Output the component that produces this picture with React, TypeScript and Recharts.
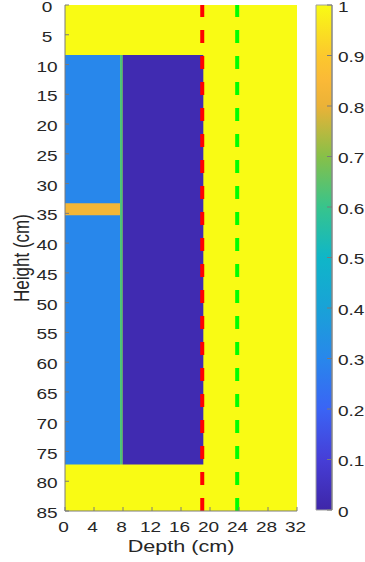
import React from 'react';
import {
  ComposedChart,
  BarChart,
  Bar,
  XAxis,
  YAxis,
  ReferenceArea,
  ReferenceLine,
  Label,
} from 'recharts';

// ---- Data ----
const depthTicks = [0, 4, 8, 12, 16, 20, 24, 28, 32];
const heightTicks = [0, 5, 10, 15, 20, 25, 30, 35, 40, 45, 50, 55, 60, 65, 70, 75, 80, 85];
const colorTicks = [0, 0.1, 0.2, 0.3, 0.4, 0.5, 0.6, 0.7, 0.8, 0.9, 1];

// Cells of the field image (depth range, height range, value)
const cellDepthFrom = [0, 0, 0, 7.6, 7.95];
const cellDepthTo = [32, 7.6, 7.6, 7.95, 19.08];
const cellHeightFrom = [0, 8.4, 33.3, 8.4, 8.4];
const cellHeightTo = [85, 77.2, 35.3, 77.2, 77.2];
const cellValue = [1, 0.3, 0.83, 0.62, 0.02];

// Dashed vertical marker lines
const markerDepth = [18.93, 23.75];
const markerColor = ['#ff0000', '#00ff00'];

// Colormap (parula-like) stops
const cmapPos = [0, 0.1, 0.2, 0.3, 0.4, 0.5, 0.6, 0.7, 0.8, 0.85, 0.9, 1];
const cmapRGB: number[][] = [
  [62, 38, 168],
  [70, 62, 215],
  [58, 100, 245],
  [40, 135, 235],
  [25, 162, 215],
  [15, 182, 200],
  [55, 196, 140],
  [135, 192, 72],
  [235, 178, 55],
  [250, 185, 55],
  [252, 200, 45],
  [249, 251, 20],
];

function cmap(v: number): string {
  for (let i = 0; i < cmapPos.length - 1; i++) {
    if (v >= cmapPos[i] && v <= cmapPos[i + 1]) {
      const t = (v - cmapPos[i]) / (cmapPos[i + 1] - cmapPos[i]);
      const c = cmapRGB[i].map((a, k) => Math.round(a + (cmapRGB[i + 1][k] - a) * t));
      return `rgb(${c[0]},${c[1]},${c[2]})`;
    }
  }
  const c = cmapRGB[cmapRGB.length - 1];
  return `rgb(${c[0]},${c[1]},${c[2]})`;
}

const cells = cellValue.map((v, i) => ({
  x1: cellDepthFrom[i],
  x2: cellDepthTo[i],
  y1: cellHeightFrom[i],
  y2: cellHeightTo[i],
  v,
}));

const mainData = cells.map((c) => ({ depth: c.x1, height: c.y1 }));
const barData = [{ name: 'cb', v: 1 }];

// ---- Styling ----
const SX = 1.27;
const FONT = 'Liberation Sans, Arial, Helvetica, sans-serif';
const TXT = '#262626';
const AX = '#7a7a7a';

function SText(props: any) {
  const { x, y, anchor, dy, size, rotate, children } = props;
  return (
    <text
      transform={`translate(${x},${y}) scale(${SX},1)${rotate ? ' rotate(-90)' : ''}`}
      textAnchor={anchor}
      dy={dy}
      fontSize={size}
      fill={TXT}
      fontFamily={FONT}
    >
      {children}
    </text>
  );
}

const LeftTick = (p: any) => (
  <SText x={p.x} y={p.y} anchor="middle" dy="0.47em" size={15}>
    {p.payload.value}
  </SText>
);
const BottomTick = (p: any) => (
  <SText x={p.x - 1.5} y={p.y} anchor="middle" dy="0.71em" size={15}>
    {p.payload.value}
  </SText>
);
const CbTick = (p: any) => (
  <SText x={p.x} y={p.y} anchor="start" dy="0.45em" size={15}>
    {p.payload.value}
  </SText>
);

const HeightLabel = (p: any) => {
  const vb = p.viewBox || {};
  return (
    <SText x={28.5} y={vb.y + vb.height / 2} anchor="middle" dy="0" size={17} rotate>
      Height (cm)
    </SText>
  );
};
const DepthLabel = (p: any) => {
  const vb = p.viewBox || {};
  return (
    <SText x={vb.x + vb.width / 2} y={551.7} anchor="middle" dy="0" size={17}>
      Depth (cm)
    </SText>
  );
};

export default function App() {
  return (
    <div style={{ position: 'absolute', left: 0, top: 0, width: 365, height: 562, background: '#fff' }}>
      <div style={{ position: 'absolute', left: 0, top: 0 }}>
        <ComposedChart
          width={365}
          height={562}
          data={mainData}
          margin={{ top: 5, right: 68, bottom: 0, left: 0 }}
        >
          <XAxis
            xAxisId="b"
            dataKey="depth"
            type="number"
            domain={[0, 32]}
            ticks={depthTicks}
            interval={0}
            allowDataOverflow
            orientation="bottom"
            height={51}
            tickSize={-4}
            tickMargin={14}
            stroke={AX}
            tick={BottomTick}
            label={<Label content={DepthLabel} />}
          />
          <XAxis
            xAxisId="t"
            dataKey="depth"
            type="number"
            domain={[0, 32]}
            ticks={depthTicks}
            interval={0}
            allowDataOverflow
            orientation="top"
            height={0}
            tickSize={-4}
            stroke={AX}
            tick={false}
          />
          <YAxis
            yAxisId="l"
            dataKey="height"
            type="number"
            domain={[0, 85]}
            reversed
            ticks={heightTicks}
            interval={0}
            allowDataOverflow
            width={65}
            tickSize={-4}
            tickMargin={22}
            stroke={AX}
            tick={LeftTick}
            label={<Label content={HeightLabel} />}
          />
          <YAxis
            yAxisId="r"
            orientation="right"
            dataKey="height"
            type="number"
            domain={[0, 85]}
            reversed
            ticks={heightTicks}
            interval={0}
            allowDataOverflow
            width={0}
            tickSize={-4}
            stroke={AX}
            tick={false}
          />
          {cells.map((c, i) => (
            <ReferenceArea
              key={`cell-${i}`}
              xAxisId="b"
              yAxisId="l"
              x1={c.x1}
              x2={c.x2}
              y1={c.y1}
              y2={c.y2}
              fill={cmap(c.v)}
              fillOpacity={1}
              stroke="none"
              ifOverflow="visible"
            />
          ))}
          {markerDepth.map((d, i) => (
            <ReferenceLine
              key={`m-${i}`}
              xAxisId="b"
              yAxisId="l"
              x={d}
              stroke={markerColor[i]}
              strokeWidth={4}
              strokeDasharray="13 13"
            />
          ))}
        </ComposedChart>
      </div>
      <div style={{ position: 'absolute', left: 0, top: 0 }}>
        <BarChart
          width={365}
          height={562}
          data={barData}
          margin={{ top: 5, right: 0, bottom: 52, left: 316 }}
          barCategoryGap={0}
        >
          <defs>
            <linearGradient id="parula" x1="0" y1="1" x2="0" y2="0">
              {cmapPos.map((p, i) => (
                <stop key={i} offset={`${p * 100}%`} stopColor={cmap(p)} />
              ))}
            </linearGradient>
          </defs>
          <XAxis dataKey="name" type="category" hide />
          <YAxis
            orientation="right"
            type="number"
            domain={[0, 1]}
            ticks={colorTicks}
            interval={0}
            width={33}
            tickSize={-5}
            tickMargin={11}
            stroke={AX}
            tick={CbTick}
          />
          <Bar dataKey="v" fill="url(#parula)" stroke="#a0a0a0" strokeWidth={1} isAnimationActive={false} />
        </BarChart>
      </div>
    </div>
  );
}
